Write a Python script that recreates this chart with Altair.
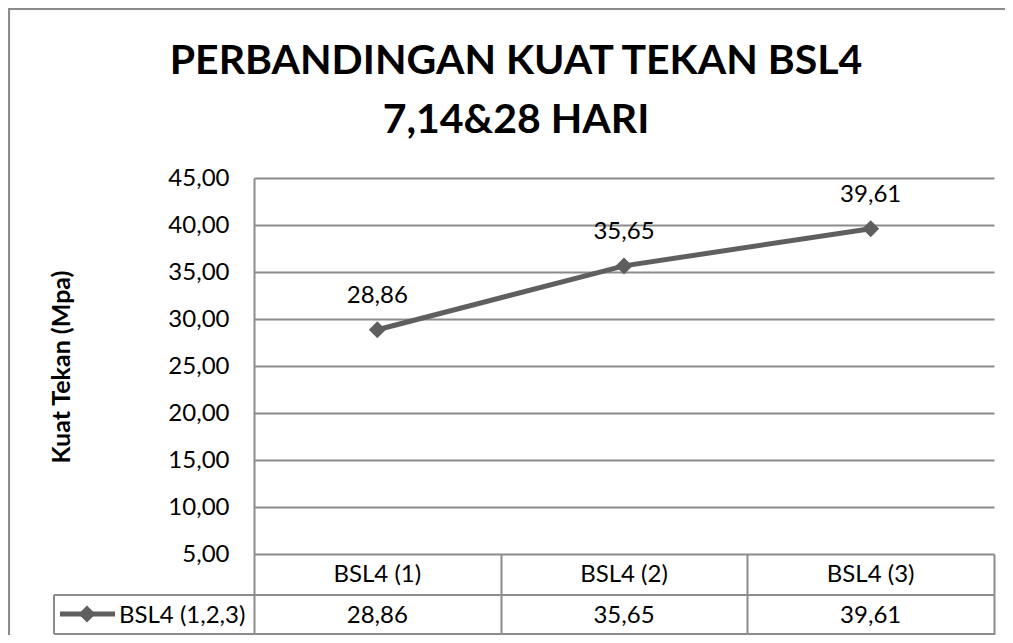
import altair as alt
import pandas as pd

# ---- data ----
categories = ["BSL4 (1)", "BSL4 (2)", "BSL4 (3)"]
values = [28.86, 35.65, 39.61]
series_name = "BSL4 (1,2,3)"
title_line1 = "PERBANDINGAN KUAT TEKAN BSL4"
title_line2 = "7,14&28 HARI"
y_title = "Kuat Tekan (Mpa)"
y_ticks = [5, 10, 15, 20, 25, 30, 35, 40, 45]

df = pd.DataFrame({"cat": categories, "val": values, "series": [series_name] * len(categories)})

FONT = "Lato"
GRAY = "#8c8c8c"
LINE = "#5f5f5f"
W, H = 740, 376
FS = 24

fmt = "replace(format(datum.val, '.2f'), '.', ',')"

base = alt.Chart(df).transform_calculate(label=fmt)

x_enc = alt.X(
    "cat:N",
    sort=categories,
    bandPosition=0.5,
    scale=alt.Scale(type="band", paddingInner=0, paddingOuter=0),
    axis=alt.Axis(
        title=None, orient="bottom", domain=False, labels=False, grid=False,
        ticks=True, tickBand="extent", tickSize=81, tickColor=GRAY, tickWidth=2,
    ),
)
y_enc = alt.Y(
    "val:Q",
    scale=alt.Scale(domain=[5, 45], nice=False, zero=False),
    axis=alt.Axis(
        values=y_ticks, title=None, grid=True, gridColor=GRAY, gridWidth=2,
        domain=True, domainColor=GRAY, domainWidth=2, ticks=False,
        labelPadding=25, labelFontSize=FS, labelFont=FONT, labelColor="black",
        labelExpr="replace(format(datum.value, '.2f'), '.', ',')",
    ),
)

line = base.mark_line(color=LINE, strokeWidth=5).encode(x=x_enc, y=y_enc)
points = base.mark_point(shape="diamond", size=290, filled=True, color=LINE, opacity=1).encode(
    x=alt.X("cat:N", sort=categories, bandPosition=0.5), y="val:Q"
)
labels = base.mark_text(font=FONT, fontSize=FS, color="black", dy=-27, baseline="alphabetic").encode(
    x=alt.X("cat:N", sort=categories, bandPosition=0.5), y="val:Q", text="label:N"
)

# data table: category row and values row
cat_row = base.mark_text(font=FONT, fontSize=FS, color="black", baseline="middle").encode(
    x=alt.X("cat:N", sort=categories, bandPosition=0.5), y=alt.value(397), text="cat:N"
)
val_row = base.mark_text(font=FONT, fontSize=FS, color="black", baseline="middle").encode(
    x=alt.X("cat:N", sort=categories, bandPosition=0.5), y=alt.value(438), text="label:N"
)

one = alt.Chart(pd.DataFrame({"series": [series_name]}))

hline1 = one.mark_rule(color=GRAY, strokeWidth=2).encode(
    x=alt.value(-200), x2=alt.value(W), y=alt.value(417)
)
hline2 = one.mark_rule(color=GRAY, strokeWidth=2).encode(
    x=alt.value(-200), x2=alt.value(W), y=alt.value(456)
)
vline = one.mark_rule(color=GRAY, strokeWidth=2).encode(
    x=alt.value(-200), y=alt.value(417), y2=alt.value(456)
)

# legend key inside the table
leg_line = one.mark_rule(color=LINE, strokeWidth=5).encode(
    x=alt.value(-194), x2=alt.value(-139), y=alt.value(436)
)
leg_pt = one.mark_point(shape="diamond", size=290, filled=True, color=LINE, opacity=1).encode(
    x=alt.value(-167), y=alt.value(436)
)
leg_txt = one.mark_text(font=FONT, fontSize=FS, color="black", align="left", baseline="middle").encode(
    x=alt.value(-135), y=alt.value(438), text="series:N"
)

# outer chart frame (its right and bottom edges fall outside the picture)
frame = one.mark_rect(filled=False, stroke=GRAY, strokeWidth=2.2).encode(
    x=alt.value(-245), x2=alt.value(W + 80), y=alt.value(-169), y2=alt.value(H + 120)
)

# titles
t1 = alt.Chart(pd.DataFrame({"t": [title_line1]})).mark_text(
    font=FONT, fontSize=41, fontWeight="bold", color="black", baseline="alphabetic"
).encode(x=alt.value(262), y=alt.value(-104), text="t:N")
t2 = alt.Chart(pd.DataFrame({"t": [title_line2]})).mark_text(
    font=FONT, fontSize=41, fontWeight="bold", color="black", baseline="alphabetic"
).encode(x=alt.value(262), y=alt.value(-45), text="t:N")
yt = alt.Chart(pd.DataFrame({"t": [y_title]})).mark_text(
    font=FONT, fontSize=25, fontWeight="bold", color="black", angle=270, baseline="middle"
).encode(x=alt.value(-192), y=alt.value(189), text="t:N")

chart = alt.layer(
    frame, line, points, labels, cat_row, val_row,
    hline1, hline2, vline, leg_line, leg_pt, leg_txt,
    t1, t2, yt,
).properties(
    width=W, height=H,
    autosize=alt.AutoSizeParams(type="none"),
    padding={"left": 246, "top": 170, "right": 11, "bottom": 81},
    background="white",
).configure_view(stroke=None)

chart.save("out.html", embed_options={"renderer": "svg", "actions": False})
